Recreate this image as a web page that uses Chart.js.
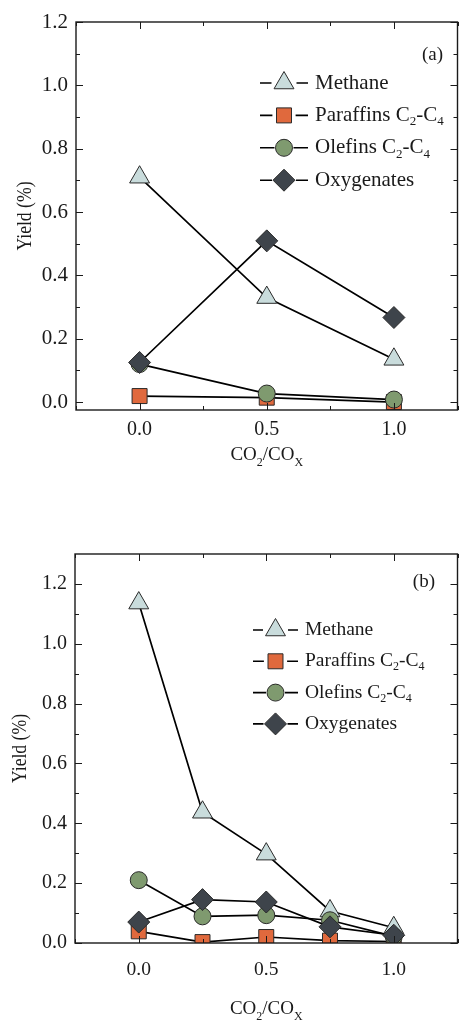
<!DOCTYPE html>
<html>
<head>
<meta charset="utf-8">
<script src="https://cdn.jsdelivr.net/npm/chart.js@4.4.0/dist/chart.umd.min.js"></script>
<style>
  html, body { margin: 0; padding: 0; background: #fff; overflow: hidden; width: 460px; height: 1023px; }
  .panel { position: absolute; left: 0; width: 470px; }
  #panelA { top: 0; height: 480px; }
  #panelB { top: 510px; height: 513px; }
</style>
</head>
<body>
<div class="panel" id="panelA"><canvas id="chartA" width="470" height="480"></canvas></div>
<div class="panel" id="panelB"><canvas id="chartB" width="470" height="513"></canvas></div>
<script>
// ---- data: panel (a) ----
const ratioA      = [0, 0.5, 1.0];
const methaneA    = [0.71, 0.33, 0.135];
const paraffinsA  = [0.019, 0.014, 0.0];
const olefinsA    = [0.12, 0.027, 0.008];
const oxygenatesA = [0.125, 0.509, 0.267];

// ---- data: panel (b) ----
const ratioB      = [0, 0.25, 0.5, 0.75, 1.0];
const methaneB    = [1.136, 0.437, 0.297, 0.107, 0.051];
const paraffinsB  = [0.039, 0.003, 0.02, 0.008, 0.005];
const olefinsB    = [0.21, 0.089, 0.093, 0.076, 0.022];
const oxygenatesB = [0.07, 0.145, 0.137, 0.054, 0.026];

// ---- labels / ticks ----
const seriesNames  = ["Methane", "Paraffins C_2-C_4", "Olefins C_2-C_4", "Oxygenates"];
const xTicks       = [0, 0.5, 1.0];
const xTickLabels  = ["0.0", "0.5", "1.0"];
const xMinorTicks  = [-0.25, 0.25, 0.75, 1.25];
const yTicks       = [0, 0.2, 0.4, 0.6, 0.8, 1.0, 1.2];
const yTickLabels  = ["0.0", "0.2", "0.4", "0.6", "0.8", "1.0", "1.2"];
const yMinorTicks  = [0.1, 0.3, 0.5, 0.7, 0.9, 1.1];
const xTitle       = "CO_2/CO_X";
const yTitle       = "Yield (%)";

// ---- styling ----
const FONT    = "'Liberation Serif', 'Times New Roman', serif";
const INK     = "#1a1a1a";
const fills   = ["#c9dcdc", "#e0693d", "#7f9a6f", "#3e444b"];
const shapes  = ["triangle", "rect", "circle", "rectRot"];
const radii   = [11.5, 10.6, 8.5, 11];
const layers  = [3, 2, 1, 0]; // oxygenates drawn on top

// draw "a_2b" style text with one-char subscripts
function drawRich(ctx, text, x, y, size, align) {
  const parts = text.split(/_(\w)/);
  const big = `${size}px ${FONT}`;
  const small = `${Math.round(size * 0.62)}px ${FONT}`;
  let total = 0;
  parts.forEach((p, i) => { ctx.font = i % 2 ? small : big; total += ctx.measureText(p).width; });
  let cx = align === "center" ? x - total / 2 : x;
  ctx.textAlign = "left";
  parts.forEach((p, i) => {
    ctx.font = i % 2 ? small : big;
    ctx.fillText(p, cx, i % 2 ? y + size * 0.3 : y);
    cx += ctx.measureText(p).width;
  });
}

const framePlugin = {
  id: "frame",
  afterDatasetsDraw(chart, args, o) {
    const { ctx, chartArea: a, scales: { x, y } } = chart;
    ctx.save();
    ctx.strokeStyle = INK;
    ctx.lineWidth = 1.4;
    ctx.strokeRect(a.left, a.top, a.right - a.left, a.bottom - a.top);

    // inward ticks on all four sides
    ctx.lineWidth = 1;
    ctx.beginPath();
    const xt = (v, len) => {
      const px = Math.round(x.getPixelForValue(v)) + 0.5;
      ctx.moveTo(px, a.bottom); ctx.lineTo(px, a.bottom - len);
      ctx.moveTo(px, a.top);    ctx.lineTo(px, a.top + len);
    };
    const yt = (v, len) => {
      const py = Math.round(y.getPixelForValue(v)) + 0.5;
      ctx.moveTo(a.left, py);  ctx.lineTo(a.left + len, py);
      ctx.moveTo(a.right, py); ctx.lineTo(a.right - len, py);
    };
    xTicks.forEach((v) => xt(v, 7));
    xMinorTicks.forEach((v) => xt(v, 4));
    yTicks.forEach((v) => yt(v, 7));
    yMinorTicks.forEach((v) => { if (v <= y.max) yt(v, 4); });
    ctx.stroke();

    // axis titles
    ctx.fillStyle = INK;
    ctx.textBaseline = "alphabetic";
    drawRich(ctx, xTitle, (a.left + a.right) / 2, o.xTitleY, 19, "center");
    ctx.save();
    ctx.translate(o.yTitleX, (a.top + a.bottom) / 2);
    ctx.rotate(-Math.PI / 2);
    ctx.scale(0.86, 1);
    ctx.textBaseline = "middle";
    drawRich(ctx, yTitle, 0, 0, 20.5, "center");
    ctx.restore();

    // panel tag
    ctx.font = `19px ${FONT}`;
    ctx.textAlign = "right";
    ctx.textBaseline = "middle";
    ctx.fillText(o.tag, o.tagX, o.tagY);

    // legend
    seriesNames.forEach((name, i) => {
      const ly = o.legendY + i * o.legendStep;
      const mx = (o.lineX0 + o.lineX1) / 2;
      ctx.strokeStyle = "#000";
      ctx.lineWidth = 1.6;
      ctx.beginPath();
      ctx.moveTo(o.lineX0, ly); ctx.lineTo(mx - radii[i] - 1, ly);
      ctx.moveTo(mx + radii[i] + 1, ly); ctx.lineTo(o.lineX1, ly);
      ctx.stroke();
      ctx.fillStyle = fills[i];
      ctx.strokeStyle = "#2a2a2a";
      ctx.lineWidth = 1;
      Chart.helpers.drawPoint(ctx, { pointStyle: shapes[i], radius: radii[i], rotation: 0, borderWidth: 1 }, mx, ly);
      ctx.fillStyle = INK;
      ctx.textBaseline = "middle";
      drawRich(ctx, name, o.textX, ly, o.legendSize, "left");
    });
    ctx.restore();
  },
};

function makeDatasets(xs, series) {
  return series.map((vals, i) => ({
    label: seriesNames[i],
    data: vals.map((v, k) => ({ x: xs[k], y: v })),
    borderColor: "#000",
    borderWidth: 1.7,
    pointStyle: shapes[i],
    pointRadius: radii[i],
    pointBackgroundColor: fills[i],
    pointBorderColor: "#2a2a2a",
    pointBorderWidth: 1,
    order: layers[i],
    tension: 0,
  }));
}

function makeChart(canvas, xs, series, yMin, yMax, lay) {
  return new Chart(canvas, {
    type: "line",
    data: { datasets: makeDatasets(xs, series) },
    options: {
      responsive: false,
      animation: false,
      layout: { padding: { top: lay.top, right: 8, left: 0, bottom: 0 } },
      plugins: { legend: { display: false }, tooltip: { enabled: false }, frame: lay },
      scales: {
        x: {
          type: "linear", min: -0.25, max: 1.25,
          grid: { display: false, drawTicks: false }, border: { display: false },
          afterBuildTicks: (s) => { s.ticks = xTicks.map((v) => ({ value: v })); },
          afterFit: (s) => { s.height = lay.xHeight; },
          ticks: {
            padding: lay.xPad, color: INK, font: { family: FONT, size: lay.xSize },
            callback: (v) => xTickLabels[xTicks.indexOf(v)],
          },
        },
        y: {
          type: "linear", min: yMin, max: yMax,
          grid: { display: false, drawTicks: false }, border: { display: false },
          afterBuildTicks: (s) => { s.ticks = yTicks.map((v) => ({ value: v })); },
          afterFit: (s) => { s.width = lay.yWidth; },
          ticks: {
            padding: 8, color: INK, font: { family: FONT, size: lay.ySize },
            callback: (v) => yTickLabels[yTicks.indexOf(v)],
          },
        },
      },
    },
    plugins: [framePlugin],
  });
}

makeChart(document.getElementById("chartA"), ratioA,
  [methaneA, paraffinsA, olefinsA, oxygenatesA], -0.025, 1.2,
  { top: 22, xHeight: 70, yWidth: 76, xPad: 8, xSize: 20, ySize: 21,
    xTitleY: 460, yTitleX: 26,
    tag: "(a)", tagX: 443, tagY: 55, legendSize: 21,
    legendY: 83, legendStep: 32.4, lineX0: 260, lineX1: 308, textX: 315 });

makeChart(document.getElementById("chartB"), ratioB,
  [methaneB, paraffinsB, olefinsB, oxygenatesB], 0, 1.3,
  { top: 44, xHeight: 80, yWidth: 75, xPad: 15, xSize: 19.5, ySize: 20,
    xTitleY: 504, yTitleX: 21,
    tag: "(b)", tagX: 435, tagY: 72, legendSize: 19.5,
    legendY: 120, legendStep: 31.3, lineX0: 253, lineX1: 298, textX: 305 });
</script>
</body>
</html>
